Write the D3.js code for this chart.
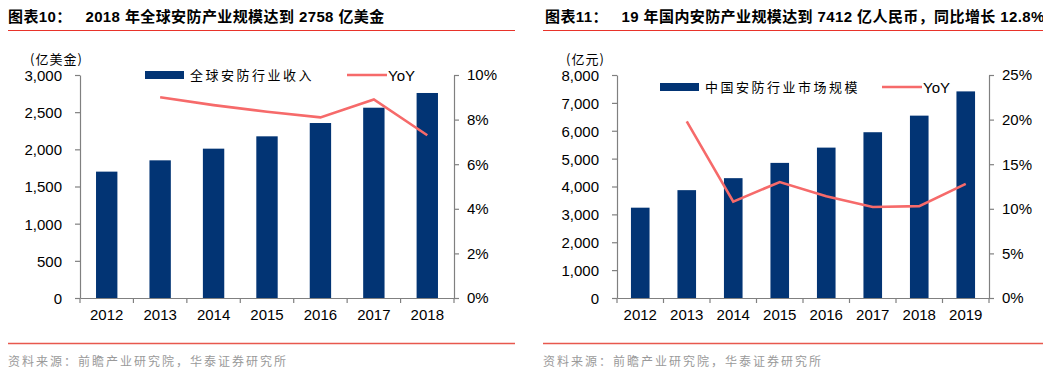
<!DOCTYPE html>
<html>
<head>
<meta charset="utf-8">
<script src="https://cdn.jsdelivr.net/npm/d3@7"></script>
<style>
  body { margin: 0; background: #fff; }
  svg { display: block; }
  .tick text { font-family: "Liberation Sans", Arial, sans-serif; font-size: 15px; fill: #000; }
</style>
</head>
<body>
<svg id="chart" width="1043" height="377"></svg>
<script>
// left panel data
const years1 = ["2012", "2013", "2014", "2015", "2016", "2017", "2018"];
const revenue1 = [1700, 1852, 2009, 2175, 2354, 2560, 2758];
const yoy1 = [null, 9.0, 8.65, 8.35, 8.1, 8.9, 7.3];
const leftTicks1 = [0, 500, 1000, 1500, 2000, 2500, 3000];
const rightTicks1 = [0, 2, 4, 6, 8, 10];

// right panel data
const years2 = ["2012", "2013", "2014", "2015", "2016", "2017", "2018", "2019"];
const revenue2 = [3240, 3869, 4299, 4847, 5395, 5947, 6542, 7412];
const yoy2 = [null, 19.8, 10.8, 13.0, 11.4, 10.2, 10.3, 12.8];
const leftTicks2 = [0, 1000, 2000, 3000, 4000, 5000, 6000, 7000, 8000];
const rightTicks2 = [0, 5, 10, 15, 20, 25];

const barColor = "#023474";
const lineColor = "#f66a6a";
const axisColor = "#808080";
const cjk = "'Noto Sans CJK SC', sans-serif";

const svg = d3.select("#chart");

function drawPanel(p) {
    const g = svg.append("g").attr("transform", `translate(${p.ox},0)`);

    // title + red rules
    g.append("text")
        .attr("x", p.titleX).attr("y", 22)
        .style("font-family", "'Liberation Sans', " + cjk)
        .style("font-size", "15px").style("font-weight", "bold")
        .style("letter-spacing", "0.4px")
        .style("white-space", "pre")
        .text(p.title);
    g.append("line").attr("x1", p.ruleX1).attr("x2", p.ruleX2).attr("y1", 30.5).attr("y2", 30.5)
        .attr("stroke", "#e8332a").attr("stroke-width", 1.2);
    g.append("line").attr("x1", p.ruleX1).attr("x2", p.ruleX2).attr("y1", 343.5).attr("y2", 343.5)
        .attr("stroke", "#e8584e").attr("stroke-width", 1.5);
    g.append("text")
        .attr("x", p.ruleX1).attr("y", 366)
        .style("font-family", cjk).style("font-size", "12px")
        .style("letter-spacing", "2px").attr("fill", "#9a9a9a")
        .text("资料来源：前瞻产业研究院，华泰证券研究所");

    const top = 75, bottom = 298;
    const x = d3.scaleBand().domain(p.years).range([p.left, p.right])
        .paddingInner(0.6).paddingOuter(0.3);
    const y = d3.scaleLinear().domain([0, d3.max(p.leftTicks)]).range([bottom, top]);
    const y2 = d3.scaleLinear().domain([0, d3.max(p.rightTicks)]).range([bottom, top]);

    // unit label
    g.append("text")
        .attr("x", p.unitX).attr("y", 64)
        .style("font-family", cjk).style("font-size", "13px")
        .style("letter-spacing", "1px")
        .text(p.unit);

    // bars
    g.selectAll(".bar")
        .data(p.years)
        .enter().append("rect")
        .attr("class", "bar")
        .attr("x", d => x(d))
        .attr("y", (d, i) => y(p.revenue[i]))
        .attr("width", x.bandwidth())
        .attr("height", (d, i) => bottom - y(p.revenue[i]))
        .attr("fill", barColor);

    // yoy line
    const pts = p.years.map((d, i) => [x(d) + x.bandwidth() / 2, p.yoy[i]]).filter(d => d[1] != null);
    g.append("path")
        .datum(pts)
        .attr("fill", "none")
        .attr("stroke", lineColor)
        .attr("stroke-width", 2.6)
        .attr("d", d3.line().x(d => d[0]).y(d => y2(d[1])));

    // axes
    const yAxis = g.append("g")
        .attr("transform", `translate(${p.left},0)`)
        .call(d3.axisLeft(y).tickValues(p.leftTicks).tickFormat(d3.format(",")).tickSize(5).tickSizeOuter(0).tickPadding(13));
    const y2Axis = g.append("g")
        .attr("transform", `translate(${p.right},0)`)
        .call(d3.axisRight(y2).tickValues(p.rightTicks).tickFormat(d => d + "%").tickSize(5).tickSizeOuter(0).tickPadding(8));
    const xAxis = g.append("g")
        .attr("transform", `translate(0,${bottom})`)
        .call(d3.axisBottom(x).tickSize(0).tickSizeOuter(0).tickPadding(11));
    [yAxis, y2Axis, xAxis].forEach(a => {
        a.select(".domain").attr("stroke", axisColor).attr("stroke-width", 1.2);
        a.selectAll(".tick line").attr("stroke", axisColor).attr("stroke-width", 1.2);
        a.selectAll(".tick text").attr("fill", "#000");
    });
    yAxis.selectAll(".tick text").attr("dy", "0.36em");
    // x ticks at band boundaries
    const gap = (x.step() - x.bandwidth()) / 2;
    const bounds = p.years.map(d => x(d) - gap).concat([x(p.years[p.years.length - 1]) + x.bandwidth() + gap]);
    xAxis.selectAll(".bound")
        .data(bounds)
        .enter().append("line")
        .attr("x1", d => d).attr("x2", d => d)
        .attr("y1", 0).attr("y2", 5)
        .attr("stroke", axisColor).attr("stroke-width", 1.2);

    // legend
    const lg = g.append("g").attr("transform", `translate(${p.legX},${p.legY})`);
    lg.append("rect").attr("x", 0).attr("y", -4).attr("width", 39).attr("height", 8).attr("fill", barColor);
    lg.append("text").attr("x", 45).attr("y", 5)
        .style("font-family", cjk).style("font-size", "13px").style("letter-spacing", "2.5px")
        .text(p.legendName);
    lg.append("line").attr("x1", p.legLineX).attr("x2", p.legLineX + 40).attr("y1", 0).attr("y2", 0)
        .attr("stroke", lineColor).attr("stroke-width", 2.6);
    lg.append("text").attr("x", p.legLineX + 41).attr("y", 5.5)
        .style("font-family", "'Liberation Sans', Arial, sans-serif").style("font-size", "15px")
        .text("YoY");
}

drawPanel({
    ox: 0, left: 80, right: 454,
    title: "图表10：   2018 年全球安防产业规模达到 2758 亿美金",
    titleX: 8, ruleX1: 8, ruleX2: 515,
    unit: "(亿美金)", unitX: 30,
    years: years1, revenue: revenue1, yoy: yoy1,
    leftTicks: leftTicks1, rightTicks: rightTicks1,
    legendName: "全球安防行业收入", legX: 145, legY: 75, legLineX: 202
});

drawPanel({
    ox: 520, left: 97, right: 469,
    title: "图表11：   19 年国内安防产业规模达到 7412 亿人民币，同比增长 12.8%",
    titleX: 25, ruleX1: 23, ruleX2: 523,
    unit: "(亿元)", unitX: 46,
    years: years2, revenue: revenue2, yoy: yoy2,
    leftTicks: leftTicks2, rightTicks: rightTicks2,
    legendName: "中国安防行业市场规模", legX: 140, legY: 87, legLineX: 222
});
</script>
</body>
</html>
